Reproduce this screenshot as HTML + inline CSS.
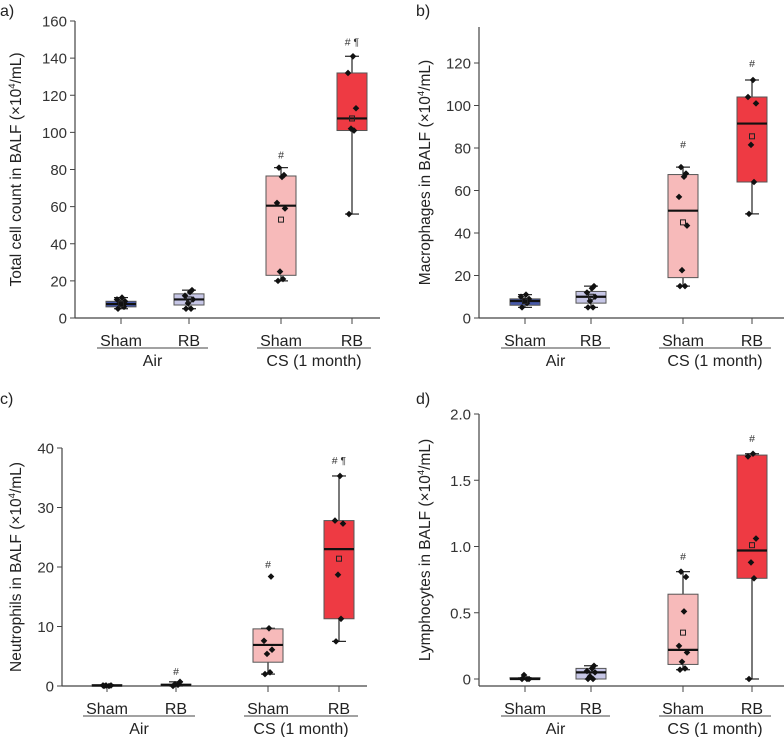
<!DOCTYPE html>
<html><head><meta charset="utf-8">
<style>
html,body{margin:0;padding:0;background:#fff;}
svg{display:block;font-family:"Liberation Sans",sans-serif;}
</style></head>
<body>
<svg id="chart" width="784" height="737" viewBox="0 0 784 737" xmlns="http://www.w3.org/2000/svg"></svg>
<script>
const categories = ["Sham","RB","Sham","RB"];
const groups = ["Air","CS (1 month)"];
const colors = ["#4658a8","#c6c6e6","#f7baba","#ee3a43"];
// panel a
const aQ1=[6,7,23,101], aMed=[7.5,10,60.5,107.5], aQ3=[9,13,76.5,132], aLo=[5,5,20,56], aHi=[11,15,81,141];
const aMean=[7.5,10,53,107.5];
const aPts=[[5,7,8,9,10,11,6],[5,5,8,10,12,14,15],[20,21,25,59,62,76,77,81],[56,101,102,113,132,141]];
const aSig=["","","#","# ¶"], aSigVal=[0,0,88,149];
const aTicks=[0,20,40,60,80,100,120,140,160], aTickLabels=["0","20","40","60","80","100","120","140","160"];
// panel b
const bQ1=[6,7,19,64], bMed=[8,10,50.5,91.5], bQ3=[9,12.5,67.5,104], bLo=[5,5,15,49], bHi=[11,15,71,112];
const bMean=[8,10,45,85.5];
const bPts=[[5,7,8,9,10,11],[5,5,8,10,12,14,15],[15,15,22.5,43.5,57,66.5,68,71],[49,64,81.5,101,104,112]];
const bSig=["","","#","#"], bSigVal=[0,0,82,120];
const bTicks=[0,20,40,60,80,100,120], bTickLabels=["0","20","40","60","80","100","120"];
// panel c
const cQ1=[0,0.1,4,11.3], cMed=[0.1,0.2,6.9,23], cQ3=[0.2,0.3,9.6,27.8], cLo=[0,0,2,7.5], cHi=[0.2,0.7,9.7,35.3];
const cMean=[null,null,null,21.4];
const cPts=[[0,0,0.1,0.1,0.1],[0,0.2,0.3,0.7],[2,2.3,5.4,6.1,7.6,9.7,18.4],[7.5,11.3,18.7,27.3,27.8,35.3]];
const cSig=["","#","#","# ¶"], cSigVal=[0,2.5,20.5,38];
const cTicks=[0,10,20,30,40], cTickLabels=["0","10","20","30","40"];
// panel d
const dQ1=[0,0,0.11,0.76], dMed=[0,0.05,0.22,0.97], dQ3=[0.01,0.08,0.64,1.69], dLo=[0,0,0.07,0], dHi=[0.01,0.1,0.81,1.7];
const dMean=[null,null,0.35,1.01];
const dPts=[[0,0,0.03,0],[0,0,0.02,0.05,0.06,0.08,0.1],[0.07,0.08,0.13,0.2,0.25,0.51,0.77,0.81],[0,0.76,0.88,1.06,1.68,1.7]];
const dSig=["","","#","#"], dSigVal=[0,0,0.93,1.82];
const dTicks=[0,0.5,1,1.5,2], dTickLabels=["0","0.5","1.0","1.5","2.0"];

const NS="http://www.w3.org/2000/svg";
const svg=document.getElementById("chart");
function mk(tag,attrs,parent,text){const e=document.createElementNS(NS,tag);for(const k in attrs)e.setAttribute(k,attrs[k]);if(text!==undefined)e.textContent=text;(parent||svg).appendChild(e);return e;}
const jit=[-3,2,-1,4,-4,1,3,-2];

function panel(p){
  const g=mk("g",{});
  
  
  const y=v=>p.y0+(v-p.vmin)/(p.vmax-p.vmin)*(p.y1-p.y0);
  const lab=mk("text",{x:p.lx,y:p.ly,"font-size":16,fill:"#222"},g,p.letter);
  
  
  const ya=mk("line",{x1:p.ax,x2:p.ax,y1:p.axTop,y2:p.xAxisY,stroke:"#444","stroke-width":1.2},g);
  
  
  const xa=mk("line",{x1:p.ax,x2:p.axRight,y1:p.xAxisY,y2:p.xAxisY,stroke:"#444","stroke-width":1.2},g);
  
  
  p.ticks.forEach((t,i)=>{
    const yy=y(t);
    mk("line",{x1:p.ax-5,x2:p.ax,y1:yy,y2:yy,stroke:"#444"},g);
    const tl=mk("text",{x:p.ax-8,y:yy+5.5,"font-size":15,fill:"#333","text-anchor":"end"},g,p.tickLabels[i]);
    
    
  });
  const tt=mk("text",{x:0,y:0,"font-size":15.5,fill:"#222","text-anchor":"middle",transform:`translate(${p.tx},${(p.axTop+p.xAxisY)/2}) rotate(-90)`},g);
  
  
  tt.appendChild(document.createTextNode(p.title+" (×10"));
  mk("tspan",{"font-size":9.5,dy:-6},tt,"4");
  mk("tspan",{dy:6},tt,"/mL)");
  categories.forEach((c,i)=>{
    const cx=p.cx[i];
    mk("line",{x1:cx,x2:cx,y1:p.xAxisY,y2:p.xAxisY+6,stroke:"#444"},g);
    const cl=mk("text",{x:cx,y:p.xAxisY+28,"font-size":16,fill:"#222","text-anchor":"middle"},g,c);
    
    
    const bg=mk("g",{},g);
    
    
    const hw=15;
    mk("line",{x1:cx,x2:cx,y1:y(p.lo[i]),y2:y(p.hi[i]),stroke:"#222","stroke-width":1.2},bg);
    mk("line",{x1:cx-7,x2:cx+7,y1:y(p.lo[i]),y2:y(p.lo[i]),stroke:"#222","stroke-width":1.2},bg);
    mk("line",{x1:cx-7,x2:cx+7,y1:y(p.hi[i]),y2:y(p.hi[i]),stroke:"#222","stroke-width":1.2},bg);
    const top=y(p.q3[i]),bot=y(p.q1[i]);
    mk("rect",{x:cx-hw,y:Math.min(top,bot),width:2*hw,height:Math.max(Math.abs(bot-top),1.5),fill:colors[i],stroke:"#555","stroke-width":1},bg);
    mk("line",{x1:cx-hw,x2:cx+hw,y1:y(p.med[i]),y2:y(p.med[i]),stroke:"#111","stroke-width":2.2},bg);
    p.pts[i].forEach((v,j)=>{
      const px=cx+jit[j%jit.length],py=y(v);
      const d=mk("path",{d:`M${px} ${py-3.3}L${px+3.3} ${py}L${px} ${py+3.3}L${px-3.3} ${py}Z`,fill:"#111"},bg);
      
      
    });
    if(p.mean[i]!==null){
      const m=mk("rect",{x:cx-2.5,y:y(p.mean[i])-2.5,width:5,height:5,fill:"none",stroke:"#222","stroke-width":1},bg);
      
      
    }
    if(p.sig[i]){
      const s=mk("text",{x:cx,y:y(p.sigVal[i])+4,"font-size":10.5,fill:"#333","text-anchor":"middle"},g,p.sig[i]);
      
      
    }
  });
  groups.forEach((gname,k)=>{
    const l=p.cx[2*k]-24,r=p.cx[2*k+1]+19;
    mk("line",{x1:l,x2:r,y1:p.xAxisY+30,y2:p.xAxisY+30,stroke:"#444"},g);
    const gl=mk("text",{x:(l+r)/2,y:p.xAxisY+48,"font-size":16,fill:"#222","text-anchor":"middle"},g,gname);
    
    
  });
}
panel({name:"panel-a-total-cells",letter:"a)",lx:0,ly:16,ax:75,axRight:380,axTop:21,xAxisY:318,y0:318,y1:21,vmin:0,vmax:160,tx:21,
 cx:[121,189,281,352],title:"Total cell count in BALF",ticks:aTicks,tickLabels:aTickLabels,
 q1:aQ1,med:aMed,q3:aQ3,lo:aLo,hi:aHi,mean:aMean,pts:aPts,sig:aSig,sigVal:aSigVal});
panel({name:"panel-b-macrophages",letter:"b)",lx:416,ly:16,ax:479,axRight:784,axTop:27,xAxisY:318,y0:318,y1:63,vmin:0,vmax:120,tx:430,
 cx:[525,591,683,752],title:"Macrophages in BALF",ticks:bTicks,tickLabels:bTickLabels,
 q1:bQ1,med:bMed,q3:bQ3,lo:bLo,hi:bHi,mean:bMean,pts:bPts,sig:bSig,sigVal:bSigVal});
panel({name:"panel-c-neutrophils",letter:"c)",lx:0,ly:404,ax:62,axRight:367,axTop:448,xAxisY:686,y0:686,y1:448,vmin:0,vmax:40,tx:21,
 cx:[107,176,268,339],title:"Neutrophils in BALF",ticks:cTicks,tickLabels:cTickLabels,
 q1:cQ1,med:cMed,q3:cQ3,lo:cLo,hi:cHi,mean:cMean,pts:cPts,sig:cSig,sigVal:cSigVal});
panel({name:"panel-d-lymphocytes",letter:"d)",lx:416,ly:404,ax:479,axRight:784,axTop:414,xAxisY:686,y0:679,y1:414,vmin:0,vmax:2,tx:430,
 cx:[525,591,683,752],title:"Lymphocytes in BALF",ticks:dTicks,tickLabels:dTickLabels,
 q1:dQ1,med:dMed,q3:dQ3,lo:dLo,hi:dHi,mean:dMean,pts:dPts,sig:dSig,sigVal:dSigVal});
</script>
</body></html>
